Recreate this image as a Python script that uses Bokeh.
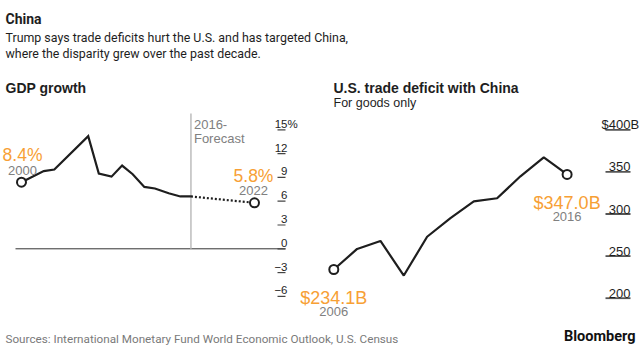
from bokeh.plotting import figure
from bokeh.models import Range1d
from bokeh.core.properties import value
from bokeh.embed import file_html
from bokeh.resources import INLINE

# ---- data ----
gdp_years = [2000, 2002.1, 2003.1, 2006.3, 2007.3, 2008.5, 2009.5, 2010.5, 2011.6, 2012.6, 2013.9, 2015.0, 2016]
gdp_values = [8.4, 9.8, 10.0, 14.2, 9.5, 9.1, 10.5, 9.4, 7.8, 7.6, 7.0, 6.6, 6.6]
fc_years = [2016, 2022]
fc_values = [6.6, 5.8]
gdp_ticks = [15, 12, 9, 6, 3, 0, -3, -6]
gdp_tick_labels = ["15", "12", "9", "6", "3", "0", "\u22123", "\u22126"]

td_years = [2006, 2007, 2008, 2009, 2010, 2011, 2012, 2013, 2014, 2015, 2016]
td_values = [234.1, 258.5, 268.0, 226.9, 273.0, 295.2, 315.1, 318.7, 344.8, 367.3, 347.0]
td_ticks = [400, 350, 300, 250, 200]
td_tick_labels = ["$400", "350", "300", "250", "200"]

ORANGE = "#f7a035"
GRAY = "#808080"
DARK = "#1e1e1e"
NARROW = value("Roboto")
SANS = value("Liberation Sans")

p = figure(width=640, height=346, x_range=Range1d(0, 640), y_range=Range1d(346, 0),
           output_backend="svg", toolbar_location=None, min_border=0,
           x_axis_type=None, y_axis_type=None)
p.grid.visible = False
p.outline_line_color = None
p.background_fill_color = "white"

p.extra_x_ranges = {"gdpx": Range1d(1998.017, 2058.451), "tdx": Range1d(1991.714, 2019.146)}
p.extra_y_ranges = {"gdpy": Range1d(-12.32, 31.311), "tdy": Range1d(142.64, 553.56)}

# ---- titles ----
p.text(x=[5], y=[18], text=["China"], text_font=NARROW,
       text_font_style="bold", text_font_size="14px", text_color=DARK, text_baseline="alphabetic")
p.text(x=[5, 5], y=[36.5, 52.5],
       text=["Trump says trade deficits hurt the U.S. and has targeted China,",
             "where the disparity grew over the past decade."],
       text_font=NARROW, text_font_size="12.4px", text_color=DARK, text_baseline="alphabetic")
p.text(x=[5, 333], y=[87.5, 87.5], text=["GDP growth", "U.S. trade deficit with China"],
       text_font=SANS, text_font_style="bold", text_font_size="14px", text_color=DARK,
       text_baseline="alphabetic")
p.text(x=[333], y=[102], text=["For goods only"], text_font=SANS, text_font_size="12.5px",
       text_color=DARK, text_baseline="alphabetic")

# ---- GDP chart ----
p.segment(x0=[15], x1=[285], y0=[0], y1=[0], y_range_name="gdpy", line_color="#333333", line_width=1)
p.segment(x0=[fc_years[0]], x1=[fc_years[0]], y0=[0], y1=[17.06], x_range_name="gdpx", y_range_name="gdpy",
          line_color="#bdbdbd", line_width=1.5)
p.text(x=[fc_years[0], fc_years[0]], y=[17.06, 17.06], text=["2016-", "Forecast"], x_range_name="gdpx",
       y_range_name="gdpy", x_offset=[3, 3], y_offset=[11, 25], text_font=SANS, text_font_size="13px",
       text_color=GRAY, text_baseline="alphabetic")
p.segment(x0=[277] * len(gdp_ticks), x1=[285] * len(gdp_ticks), y0=gdp_ticks, y1=gdp_ticks,
          y_range_name="gdpy", line_color="#444444", line_width=1.2)
p.text(x=[287] * len(gdp_ticks), y=gdp_ticks, text=gdp_tick_labels, y_range_name="gdpy", y_offset=-6,
       text_font=SANS, text_font_size="11.5px", text_color=DARK, text_align="right", text_baseline="alphabetic")
p.text(x=[287], y=[gdp_ticks[0]], text=["%"], y_range_name="gdpy", y_offset=-6,
       text_font=SANS, text_font_size="11.5px", text_color=DARK, text_align="left", text_baseline="alphabetic")

p.line(gdp_years, gdp_values, x_range_name="gdpx", y_range_name="gdpy", line_color=DARK, line_width=2.2,
       line_join="miter")
p.line(fc_years, fc_values, x_range_name="gdpx", y_range_name="gdpy", line_color=DARK, line_width=2.2,
       line_dash="2 2")
p.scatter([gdp_years[0], fc_years[-1]], [gdp_values[0], fc_values[-1]], x_range_name="gdpx",
          y_range_name="gdpy", size=9, fill_color="white", line_color=DARK, line_width=2)
p.text(x=[gdp_years[0], fc_years[-1]], y=[gdp_values[0], fc_values[-1]],
       text=[f"{gdp_values[0]}%", f"{fc_values[-1]}%"], x_range_name="gdpx", y_range_name="gdpy",
       x_offset=[1, -1], y_offset=-27, text_font=SANS, text_font_size="17.5px", text_color=ORANGE,
       text_align="center", text_baseline="alphabetic")
p.text(x=[gdp_years[0], fc_years[-1]], y=[gdp_values[0], fc_values[-1]],
       text=[str(gdp_years[0]), str(fc_years[-1])], x_range_name="gdpx", y_range_name="gdpy",
       x_offset=[1, -1], y_offset=-12, text_font=SANS, text_font_size="13px", text_color=GRAY,
       text_align="center", text_baseline="alphabetic")

# ---- trade deficit chart ----
p.segment(x0=[605] * len(td_ticks), x1=[630] * len(td_ticks), y0=td_ticks, y1=td_ticks,
          y_range_name="tdy", line_color="#555555", line_width=1.8)
p.text(x=[630] * len(td_ticks), y=td_ticks, text=td_tick_labels, y_range_name="tdy", y_offset=-5,
       text_font=SANS, text_font_size="13px", text_color=DARK, text_align="right", text_baseline="alphabetic")
p.text(x=[630], y=[td_ticks[0]], text=["B"], y_range_name="tdy", y_offset=-5,
       text_font=SANS, text_font_size="13px", text_color=DARK, text_align="left", text_baseline="alphabetic")

p.line(td_years, td_values, x_range_name="tdx", y_range_name="tdy", line_color=DARK, line_width=2.2)
p.scatter([td_years[0], td_years[-1]], [td_values[0], td_values[-1]], x_range_name="tdx",
          y_range_name="tdy", size=9, fill_color="white", line_color=DARK, line_width=2)
p.text(x=[td_years[0], td_years[-1]], y=[td_values[0], td_values[-1]],
       text=[f"${td_values[0]:.1f}B", f"${td_values[-1]:.1f}B"], x_range_name="tdx", y_range_name="tdy",
       y_offset=29, text_font=SANS, text_font_size="18px", text_color=ORANGE,
       text_align="center", text_baseline="alphabetic")
p.text(x=[td_years[0], td_years[-1]], y=[td_values[0], td_values[-1]],
       text=[str(td_years[0]), str(td_years[-1])], x_range_name="tdx", y_range_name="tdy",
       y_offset=42, text_font=SANS, text_font_size="13px", text_color=GRAY,
       text_align="center", text_baseline="alphabetic")

# ---- footer ----
p.text(x=[5], y=[338], text=["Sources: International Monetary Fund World Economic Outlook, U.S. Census"],
       text_font=NARROW, text_font_size="11.7px", text_color="#7a7a7a", text_baseline="alphabetic")
p.text(x=[635], y=[336], text=["Bloomberg"], text_font=NARROW, text_font_style="bold",
       text_font_size="14.5px", text_color="#111111", text_align="right", text_baseline="alphabetic")

open("out.html", "w").write(file_html(p, INLINE))
